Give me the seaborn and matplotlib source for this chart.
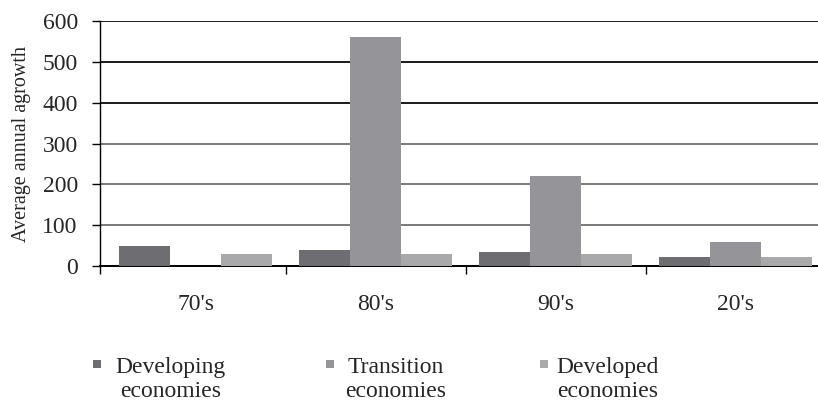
import matplotlib
matplotlib.use("Agg")
import matplotlib.pyplot as plt
import seaborn as sns
import pandas as pd
import numpy as np
from matplotlib.patches import Rectangle

# Average annual growth by decade and economy group
decades = ["70's", "80's", "90's", "20's"]
developing = [49, 39, 34, 22]
transition = [0, 561, 220, 59]
developed = [29, 29, 29, 22]
series_names = ["Developing\neconomies", "Transition\neconomies", "Developed\neconomies"]
series_colors = ["#6e6e72", "#959599", "#a9a9ac"]
y_ticks = [0, 100, 200, 300, 400, 500, 600]
y_label = "Average annual agrowth"

sns.set_theme(style="white")
plt.rcParams["font.family"] = ["Liberation Serif", "DejaVu Serif"]

df = pd.DataFrame({
    "decade": decades * 3,
    "series": [name for name in series_names for _ in decades],
    "value": developing + transition + developed,
})

W, H = 818, 401
fig = plt.figure(figsize=(W / 100, H / 100), dpi=100)
ax = fig.add_axes([100 / W, 1 - 266 / H, 718 / W, 245 / H])

sns.barplot(data=df, x="decade", y="value", hue="series", order=decades,
            hue_order=series_names, palette=series_colors, saturation=1,
            width=0.85, linewidth=0, legend=False, ax=ax, zorder=3)

ax.set_xlim(-0.533, 3.456)
ax.set_ylim(y_ticks[0], y_ticks[-1])
ax.set_yticks(y_ticks)
ax.tick_params(axis="y", which="major", direction="out", length=6, width=1,
               color="black", labelsize=17, pad=10, left=True)

# category labels without marks; short marks at the group boundaries
ax.set_xticks(range(len(decades)))
ax.set_xticklabels(decades, fontsize=17)
ax.tick_params(axis="x", which="major", length=0, pad=20)
ax.set_xticks([-0.533, 0] + list(np.arange(len(decades) - 1) + 0.5), minor=True)
ax.tick_params(axis="x", which="minor", direction="out", length=6, width=1,
               color="black", bottom=True)

ax.set_xlabel("")
ax.set_ylabel(y_label, fontsize=14.5, labelpad=8)

# horizontal gridlines
ax.set_axisbelow(True)
ax.yaxis.grid(True, linewidth=1.4)
for val, gl in zip(y_ticks, ax.get_ygridlines()):
    gl.set_color("#1a1a1a" if val >= 400 else "#7a7a7a")

for side in ["top", "right"]:
    ax.spines[side].set_visible(False)
ax.spines["left"].set_color("black")
ax.spines["left"].set_linewidth(1)
ax.spines["bottom"].set_color("black")
ax.spines["bottom"].set_linewidth(1.4)

# legend row under the chart: small square followed by a two-line label
square_x = [93, 326, 540]
text_x = [115, 345, 556]
square_bottom_y = 368
last_baseline_y = 397
sq = 8
for name, color, sx, tx in zip(series_names, series_colors, square_x, text_x):
    fig.add_artist(Rectangle((sx / W, 1 - square_bottom_y / H), sq / W, sq / H,
                             transform=fig.transFigure, facecolor=color,
                             edgecolor="none"))
    fig.text(tx / W, 1 - last_baseline_y / H, name, fontsize=17, ha="left",
             va="baseline", multialignment="center", linespacing=1.2)

fig.savefig("out.png", dpi=100)
